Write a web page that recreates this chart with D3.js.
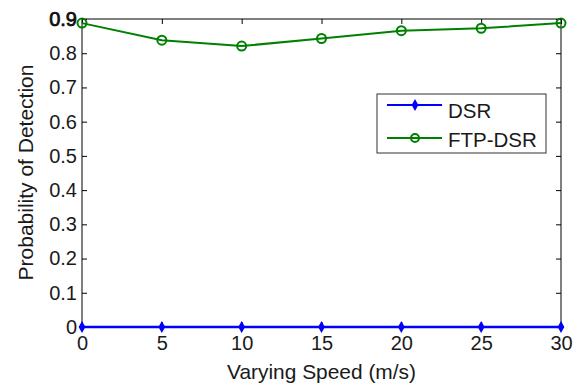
<!DOCTYPE html>
<html>
<head>
<meta charset="utf-8">
<script src="https://cdn.jsdelivr.net/npm/d3@7"></script>
<style>
  body { margin: 0; background: #fff; }
  text { font-family: "Liberation Sans", Arial, sans-serif; }
</style>
</head>
<body>
<div id="chart"></div>
<script>
// speed values on the x axis
const speeds = [0, 5, 10, 15, 20, 25, 30];
const dsr = [0, 0, 0, 0, 0, 0, 0];
const ftpDsr = [0.888, 0.838, 0.821, 0.843, 0.866, 0.873, 0.888];
const seriesNames = ['DSR', 'FTP-DSR'];
const yTicks = [0, 0.1, 0.2, 0.3, 0.4, 0.5, 0.6, 0.7, 0.8, 0.9];

const W = 582, H = 383;
const margin = { top: 19, right: 21, bottom: 56, left: 82 };
const width = W - margin.left - margin.right;
const height = H - margin.top - margin.bottom;

const svg = d3.select('#chart').append('svg')
  .attr('width', W).attr('height', H);
const g = svg.append('g').attr('transform', `translate(${margin.left},${margin.top})`);

const x = d3.scaleLinear().domain([0, 30]).range([0, width]);
const y = d3.scaleLinear().domain([0, 0.9]).range([height, 0]);

// box with inward ticks on all sides
const tickLen = 5;
g.append('rect').attr('width', width).attr('height', height)
  .attr('fill', 'none').attr('stroke', '#000').attr('stroke-width', 1);

const axB = g.append('g').attr('transform', `translate(0,${height})`)
  .call(d3.axisBottom(x).tickValues(speeds).tickSizeInner(-tickLen).tickSizeOuter(0).tickPadding(9));
const axL = g.append('g')
  .call(d3.axisLeft(y).tickValues(yTicks).tickFormat(d => d === 0 ? '0' : d3.format('.1f')(d))
    .tickSizeInner(-tickLen).tickSizeOuter(0).tickPadding(5));
const axT = g.append('g')
  .call(d3.axisTop(x).tickValues(speeds).tickSizeInner(-tickLen).tickSizeOuter(0).tickFormat(''));
const axR = g.append('g').attr('transform', `translate(${width},0)`)
  .call(d3.axisRight(y).tickValues(yTicks).tickSizeInner(-tickLen).tickSizeOuter(0).tickFormat(''));

[axB, axL, axT, axR].forEach(a => {
  a.select('.domain').remove();
  a.selectAll('line').attr('stroke', '#000');
  a.selectAll('text').attr('font-size', 20).attr('fill', '#1a1a1a')
    .style('font-family', '"Liberation Sans", Arial, sans-serif');
});
// the top label looks heavier in the original
axL.selectAll('text').filter(d => d === 0.9).attr('stroke', '#000').attr('stroke-width', 0.7);

// series
const line = d3.line().x((d, i) => x(speeds[i])).y(d => y(d));
g.append('path').datum(ftpDsr).attr('d', line)
  .attr('fill', 'none').attr('stroke', '#008000').attr('stroke-width', 2);
g.selectAll('.ftp').data(ftpDsr).enter().append('circle')
  .attr('cx', (d, i) => x(speeds[i])).attr('cy', d => y(d)).attr('r', 4.5)
  .attr('fill', 'none').attr('stroke', '#008000').attr('stroke-width', 2);

g.append('path').datum(dsr).attr('d', line)
  .attr('fill', 'none').attr('stroke', '#0000ff').attr('stroke-width', 2.5);
const diamond = d3.symbol().type(d3.symbolDiamond).size(40);
g.selectAll('.dsr').data(dsr).enter().append('path')
  .attr('d', diamond)
  .attr('transform', (d, i) => `translate(${x(speeds[i])},${y(d)})`)
  .attr('fill', '#0000ff');

// axis titles
svg.append('text').attr('x', margin.left + width / 2).attr('y', 379)
  .attr('text-anchor', 'middle').attr('font-size', 21).attr('fill', '#1a1a1a')
  .attr('textLength', 189).attr('lengthAdjust', 'spacingAndGlyphs')
  .text('Varying Speed (m/s)');
svg.append('text').attr('transform', 'translate(33,172.5) rotate(-90)')
  .attr('text-anchor', 'middle').attr('font-size', 21).attr('fill', '#1a1a1a')
  .text('Probability of Detection');

// legend
const legend = svg.append('g').attr('transform', 'translate(377,94)');
legend.append('rect').attr('width', 169).attr('height', 59)
  .attr('fill', '#fff').attr('stroke', '#333').attr('stroke-width', 1);
const colors = ['#0000ff', '#008000'];
seriesNames.forEach((name, i) => {
  const ly = 11 + i * 33;
  legend.append('line').attr('x1', 10).attr('x2', 65).attr('y1', ly).attr('y2', ly)
    .attr('stroke', colors[i]).attr('stroke-width', 2);
  if (i === 0) {
    legend.append('path').attr('d', diamond).attr('transform', `translate(38,${ly})`).attr('fill', colors[i]);
  } else {
    legend.append('circle').attr('cx', 38).attr('cy', ly).attr('r', 4)
      .attr('fill', 'none').attr('stroke', colors[i]).attr('stroke-width', 2);
  }
  legend.append('text').attr('x', 71).attr('y', ly + 13 - i * 4)
    .attr('font-size', 20.5).attr('fill', '#1a1a1a').text(name);
});
</script>
</body>
</html>
